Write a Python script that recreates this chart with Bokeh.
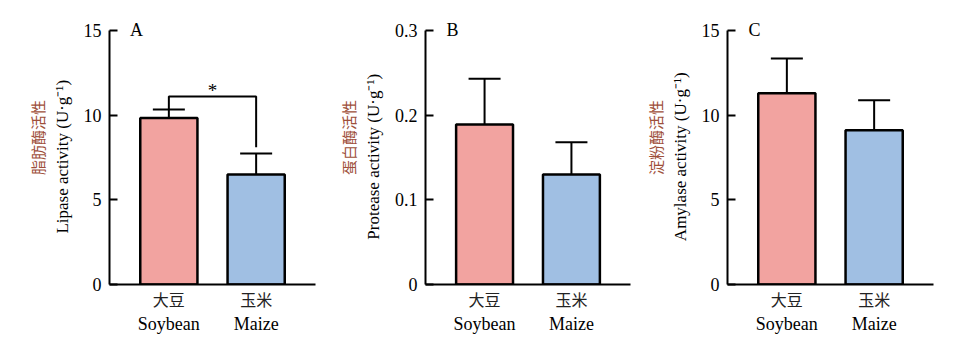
from bokeh.plotting import figure
from bokeh.layouts import row
from bokeh.models import (FactorRange, Range1d, LinearAxis, CategoricalAxis, FixedTicker,
                          Whisker, TeeHead, ColumnDataSource, Label)
from bokeh.embed import file_html
from bokeh.resources import INLINE

categories_cn = ["大豆", "玉米"]
categories_en = ["Soybean", "Maize"]
bar_colors = ["#F2A3A0", "#A0BFE3"]

lipase = [9.84, 6.5]
lipase_err = [0.5, 1.24]
protease = [0.189, 0.130]
protease_err = [0.054, 0.038]
amylase = [11.3, 9.11]
amylase_err = [2.05, 1.77]

lipase_ticks = [0, 5, 10, 15]
protease_ticks = [0, 0.1, 0.2, 0.3]
amylase_ticks = [0, 5, 10, 15]

sig_bracket_y = [10.35, 11.1, 11.1, 8.1]
sig_text = "*"

SERIF = "'Liberation Serif'"
CJK = "'Noto Sans CJK SC'"
CN_COLOR = "#9E4F3A"
PAD = 0.18
CN_SHIFT = "\u3000\u3000"   # moves the rotated Chinese title up along the axis
EN_SHIFT = "\u2002"         # moves the rotated English title slightly down


def panel(values, errs, ymax, ticks, letter, cn_label, en_label, width, bl, br,
          overrides=None, sig=None):
    ytop = ymax * (1 + 10 / 254)
    p = figure(width=width, height=354,
               x_range=FactorRange(*categories_cn, range_padding=PAD,
                                   range_padding_units="absolute"),
               y_range=Range1d(0, ytop), output_backend="svg", toolbar_location=None,
               min_border_left=bl, min_border_right=br, min_border_top=20,
               min_border_bottom=70)
    p.extra_x_ranges = {"en": FactorRange(*categories_en, range_padding=PAD,
                                          range_padding_units="absolute")}
    p.outline_line_color = None
    p.xgrid.visible = False
    p.ygrid.visible = False

    src = ColumnDataSource(dict(
        x=categories_cn, top=values, color=bar_colors,
        lower=values, upper=[v + e for v, e in zip(values, errs)]))

    p.add_layout(Whisker(source=src, base="x", lower="lower", upper="upper",
                         upper_head=TeeHead(size=32, line_width=2, line_color="black"),
                         lower_head=None, line_width=2, line_color="black"))
    p.vbar(x="x", top="top", width=0.655, source=src, fill_color="color",
           line_color="black", line_width=2.5)

    # y axis
    ya = p.yaxis[0]
    ya.ticker = FixedTicker(ticks=ticks)
    ya.bounds = (0, ymax)
    ya.major_tick_in = 8
    ya.major_tick_out = 0
    ya.minor_tick_line_color = None
    ya.axis_line_width = 2
    ya.major_tick_line_width = 2
    ya.major_label_text_font = SERIF
    ya.major_label_text_font_size = "18px"
    ya.major_label_text_color = "black"
    ya.major_label_standoff = 8
    if overrides:
        ya.major_label_overrides = overrides
    ya.axis_label = en_label + EN_SHIFT
    ya.axis_label_text_font = SERIF
    ya.axis_label_text_font_size = "17px"
    ya.axis_label_text_font_style = "normal"
    ya.axis_label_text_color = "black"
    ya.axis_label_standoff = 9

    ya2 = LinearAxis(ticker=FixedTicker(ticks=[]), axis_label=CN_SHIFT + cn_label,
                     axis_line_color=None, major_tick_line_color=None,
                     minor_tick_line_color=None)
    ya2.bounds = (0, ymax)
    ya2.axis_label_text_font = CJK
    ya2.axis_label_text_font_size = "15px"
    ya2.axis_label_text_font_style = "normal"
    ya2.axis_label_text_color = CN_COLOR
    ya2.axis_label_standoff = 2
    p.add_layout(ya2, "left")

    # x axes
    xa = p.xaxis[0]
    xa.axis_line_width = 2
    xa.major_tick_line_color = None
    xa.minor_tick_line_color = None
    xa.major_label_text_font = CJK
    xa.major_label_text_font_size = "16px"
    xa.major_label_text_color = "#222222"
    xa.major_label_standoff = -4

    xa2 = CategoricalAxis(x_range_name="en", axis_line_color=None,
                          major_tick_line_color=None, minor_tick_line_color=None)
    xa2.major_label_text_font = SERIF
    xa2.major_label_text_font_size = "18px"
    xa2.major_label_text_color = "black"
    xa2.major_label_standoff = -6
    p.add_layout(xa2, "below")

    p.add_layout(Label(x=0.13, y=ymax, y_offset=1, text=letter, text_align="center",
                       text_baseline="middle", text_font=SERIF, text_font_size="18px",
                       text_color="black"))

    if sig is not None:
        p.line(x=[categories_cn[0], categories_cn[0], categories_cn[1], categories_cn[1]],
               y=sig, line_width=2, line_color="black")
        p.add_layout(Label(x=1.0, y=sig[1], y_offset=-4, text=sig_text, text_align="center",
                           text_baseline="bottom", text_font=SERIF, text_font_size="19px",
                           text_color="black"))
    return p


pA = panel(lipase, lipase_err, 15, lipase_ticks, "A", "脂肪酶活性",
           "Lipase activity (U·g⁻¹)", 320, 109, 5, sig=sig_bracket_y)
pB = panel(protease, protease_err, 0.3, protease_ticks, "B", "蛋白酶活性",
           "Protease activity (U·g⁻¹)", 315, 105, 5,
           overrides={0: "0", 0.1: "0.1", 0.2: "0.2", 0.3: "0.3"})
pC = panel(amylase, amylase_err, 15, amylase_ticks, "C", "淀粉酶活性",
           "Amylase activity (U·g⁻¹)", 318, 92, 20)

layout = row(pA, pB, pC, spacing=0)
open("out.html", "w").write(file_html(layout, INLINE))
